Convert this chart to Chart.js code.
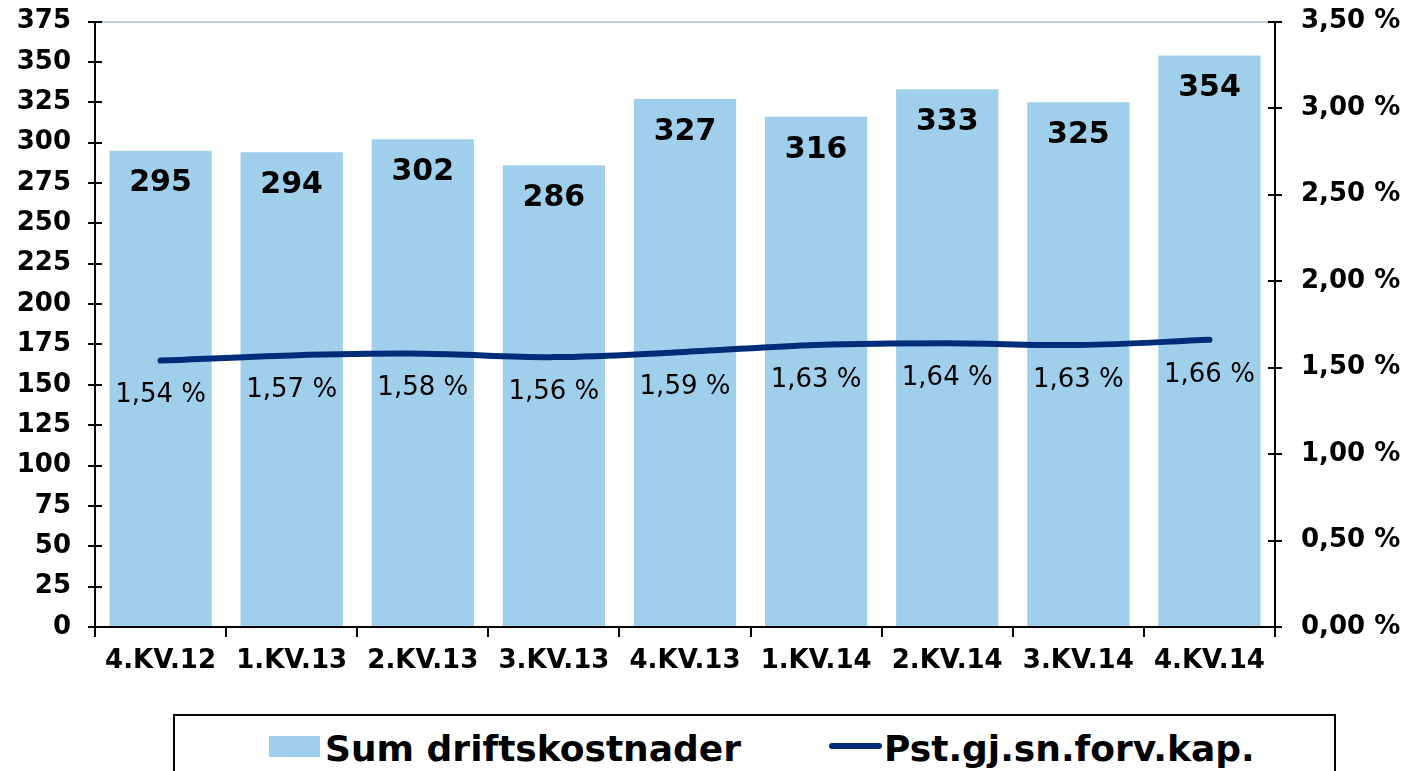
<!DOCTYPE html>
<html>
<head>
<meta charset="utf-8">
<script src="https://cdn.jsdelivr.net/npm/chart.js@4/dist/chart.umd.min.js"></script>
<style>
  html, body { margin: 0; padding: 0; background: #fff; overflow: hidden; }
  #wrap { position: relative; width: 1411px; height: 771px; overflow: hidden; }
  #c { position: absolute; left: 0; top: -4px; }
  #legend { position: absolute; left: 173px; top: 714px; width: 1163px; height: 80px;
    border: 2px solid #000; border-bottom: none; box-sizing: border-box; }
  .lg { position: absolute; top: 12px; font-family: "DejaVu Sans", Verdana, sans-serif;
    font-weight: bold; font-size: 36px; line-height: 42px; color: #000; white-space: nowrap; }
  .sw { position: absolute; }
</style>
</head>
<body>
<div id="wrap">
  <canvas id="c" width="1411" height="704"></canvas>
  <div id="legend">
    <div class="sw" style="left:94px; top:20px; width:51px; height:21px; background:#A0CFEB;"></div>
    <div class="lg" id="lg1" style="left:150px;"></div>
    <div class="sw" style="left:654px; top:27px; width:53px; height:6px; background:#002D7A; border-radius:3px;"></div>
    <div class="lg" id="lg2" style="left:709px;"></div>
  </div>
</div>
<script>
const categories = ["4.KV.12","1.KV.13","2.KV.13","3.KV.13","4.KV.13","1.KV.14","2.KV.14","3.KV.14","4.KV.14"];
const driftskostnader = [295, 294, 302, 286, 327, 316, 333, 325, 354];
const pstForvKap = [1.54, 1.57, 1.58, 1.56, 1.59, 1.63, 1.64, 1.63, 1.66];
const seriesNames = ["Sum driftskostnader", "Pst.gj.sn.forv.kap."];
const leftTicks = [0,25,50,75,100,125,150,175,200,225,250,275,300,325,350,375];
const rightTicks = [0,0.5,1,1.5,2,2.5,3,3.5];

document.getElementById('lg1').textContent = seriesNames[0];
document.getElementById('lg2').textContent = seriesNames[1];

const FONT = '"DejaVu Sans", Verdana, sans-serif';
const fmtPct = v => v.toFixed(2).replace('.', ',') + ' %';

const labelPlugin = {
  id: 'labels',
  afterDatasetsDraw(chart) {
    const ctx = chart.ctx;
    ctx.save();
    ctx.textAlign = 'center';
    ctx.textBaseline = 'middle';
    ctx.fillStyle = '#000';
    const barMeta = chart.getDatasetMeta(0);
    ctx.font = 'bold 30px ' + FONT;
    barMeta.data.forEach((el, i) => {
      ctx.fillText(String(driftskostnader[i]), el.x, el.y + 33);
    });
    const lineMeta = chart.getDatasetMeta(1);
    ctx.font = '26px ' + FONT;
    lineMeta.data.forEach((el, i) => {
      ctx.fillText(fmtPct(pstForvKap[i]), el.x, el.y + 35);
    });
    ctx.restore();
  },
  afterDraw(chart) {
    const ctx = chart.ctx;
    const y = chart.scales.y, y1 = chart.scales.y1;
    ctx.save();
    ctx.strokeStyle = '#000';
    ctx.lineWidth = 2;
    leftTicks.forEach(v => {
      const p = Math.round(y.getPixelForValue(v));
      ctx.beginPath(); ctx.moveTo(y.right, p); ctx.lineTo(y.right + 7, p); ctx.stroke();
    });
    rightTicks.forEach(v => {
      const p = Math.round(y1.getPixelForValue(v));
      ctx.beginPath(); ctx.moveTo(y1.left - 7, p); ctx.lineTo(y1.left, p); ctx.stroke();
    });
    ctx.restore();
  }
};

new Chart(document.getElementById('c'), {
  data: {
    labels: categories,
    datasets: [
      {
        type: 'bar',
        label: seriesNames[0],
        data: driftskostnader,
        backgroundColor: '#A0CFEB',
        borderWidth: 0,
        barPercentage: 0.78,
        categoryPercentage: 1,
        yAxisID: 'y',
        order: 2
      },
      {
        type: 'line',
        label: seriesNames[1],
        data: pstForvKap,
        borderColor: '#002D7A',
        borderWidth: 6,
        borderCapStyle: 'round',
        pointRadius: 0,
        tension: 0.35,
        yAxisID: 'y1',
        order: 1
      }
    ]
  },
  options: {
    responsive: false,
    animation: false,
    layout: { padding: { top: 17, left: 0, right: 0, bottom: 0 } },
    plugins: { legend: { display: false }, tooltip: { enabled: false } },
    scales: {
      x: {
        offset: true,
        grid: { offset: true, drawOnChartArea: false, color: '#000', tickLength: 10, lineWidth: 2 },
        border: { color: '#000', width: 2 },
        ticks: { color: '#000', font: { family: FONT, weight: 'bold', size: 26 }, padding: 9, maxRotation: 0 },
        afterFit: s => { s.height = 73; }
      },
      y: {
        position: 'left',
        min: 0, max: 375,
        afterBuildTicks: s => { s.ticks = leftTicks.map(v => ({ value: v })); },
        grid: {
          color: ctx => (ctx.tick && ctx.tick.value === 375) ? '#BCD3DF' : 'rgba(0,0,0,0)',
          tickColor: '#000', tickLength: 7, lineWidth: 2
        },
        border: { color: '#000', width: 2 },
        ticks: { color: '#000', font: { family: FONT, weight: 'bold', size: 26, lineHeight: 0.5 }, padding: 17 },
        afterFit: s => { s.width = 95; }
      },
      y1: {
        position: 'right',
        min: 0, max: 3.5,
        afterBuildTicks: s => { s.ticks = rightTicks.map(v => ({ value: v })); },
        grid: { drawOnChartArea: false, color: '#000', tickLength: 7, lineWidth: 2 },
        border: { color: '#000', width: 2 },
        ticks: { color: '#000', font: { family: FONT, weight: 'bold', size: 26, lineHeight: 0.5 }, padding: 19,
          callback: v => fmtPct(v) },
        afterFit: s => { s.width = 136; }
      }
    }
  },
  plugins: [labelPlugin]
});
</script>
</body>
</html>
